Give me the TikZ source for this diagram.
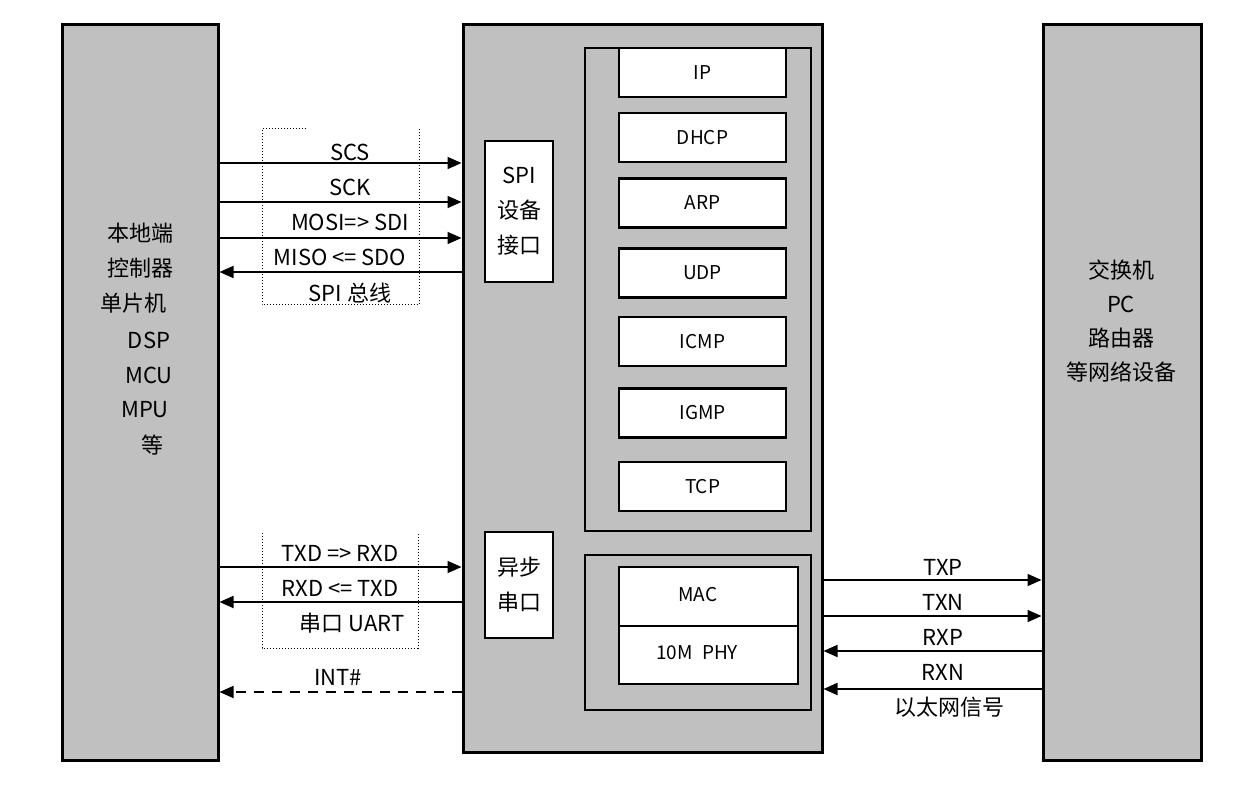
\documentclass[tikz,border=0pt]{standalone}
\usepackage{fontspec}
\setmainfont{Noto Sans CJK SC}
\usetikzlibrary{arrows.meta}
\definecolor{boxgray}{RGB}{192,192,192}

\begin{document}
\begin{tikzpicture}[x=0.5pt, y=-0.5pt,
    every node/.style={font=\fontsize{11pt}{13pt}\selectfont},
    unit/.style={draw, line width=1.5pt, fill=boxgray, inner sep=0pt},
    frame/.style={draw, line width=0.7pt, fill=boxgray, inner sep=0pt},
    layer/.style={draw, line width=1.1pt, fill=white, inner sep=0pt, minimum width=83.5pt, minimum height=24.5pt, font=\fontsize{9.5pt}{11pt}\selectfont},
    port/.style={draw, line width=1.1pt, fill=white, inner sep=0pt, minimum width=34pt, align=center, font=\fontsize{11pt}{17.5pt}\selectfont},
    sig/.style={line width=0.9pt, -{Triangle[length=7pt,width=6pt]}},
    bus/.style={line width=0.5pt, densely dotted},
    lbl/.style={inner sep=0pt}]

\useasboundingbox (0,0) rectangle (1245,801);

% the three units
\node[unit, minimum width=78pt, minimum height=367.5pt] (host) at (140,392.5) {};
\node[unit, minimum width=179.5pt, minimum height=363.5pt] (chip) at (642.5,388.5) {};
\node[unit, minimum width=79pt, minimum height=367.5pt] (net) at (1122,392.5) {};

\foreach \txt/\px/\py in {本地端/140/233, 控制器/140/268, 单片机/133/303, DSP/149/340, MCU/149/375, MPU/145/410, 等/152/445}
    \node[lbl] (host\py) at (\px,\py) {\txt};
\node[lbl, align=center, font=\fontsize{11pt}{17pt}\selectfont] (nettext) at (1121,321) {交换机\\PC\\路由器\\等网络设备};

% protocol stack
\node[frame, minimum width=113pt, minimum height=241.5pt] (stack) at (698,289.5) {};
\node[frame, minimum width=113pt, minimum height=77.5pt] (phyframe) at (698,632.5) {};
\foreach \name/\py in {IP/72.5, DHCP/137.5, ARP/203, UDP/273, ICMP/341.5, IGMP/413, TCP/486.5}
    \node[layer] (\name) at (702.5,\py) {\name};
\node[layer, minimum width=89.5pt, minimum height=58.5pt] (macphy) at (708.5,625.5) {};
\draw[line width=0.6pt] (macphy.west |- 0,626) -- (macphy.east |- 0,626);
\node[lbl, font=\fontsize{9.5pt}{11pt}\selectfont] (mac) at (698,595) {MAC};
\node[lbl, font=\fontsize{9.5pt}{11pt}\selectfont] (phy) at (697,653) {10M\enspace PHY};

\node[port, minimum height=70.5pt] (spi) at (519,211.5) {SPI\\设备\\接口};
\node[port, minimum height=53pt] (uart) at (519,585) {异步\\串口};

% buses
\draw[bus] (306,129) -- (262,129) -- (262,305) -- (419,305) -- (419,129);
\draw[bus] (262,533) -- (262,648) -- (418,648) -- (418,533);

\draw[sig] (host.east |- 0,163) -- (chip.west |- 0,163);
\draw[sig] (host.east |- 0,202) -- (chip.west |- 0,202);
\draw[sig] (host.east |- 0,238) -- (chip.west |- 0,238);
\draw[sig] (chip.west |- 0,272) -- (host.east |- 0,272);
\draw[sig] (host.east |- 0,567) -- (chip.west |- 0,567);
\draw[sig] (chip.west |- 0,602) -- (host.east |- 0,602);
\draw[sig, dash pattern=on 5pt off 4pt] (chip.west |- 0,692) -- (host.east |- 0,692);

\draw[sig] (chip.east |- 0,580) -- (net.west |- 0,580);
\draw[sig] (chip.east |- 0,616) -- (net.west |- 0,616);
\draw[sig] (net.west |- 0,651) -- (chip.east |- 0,651);
\draw[sig] (net.west |- 0,689) -- (chip.east |- 0,689);

\node[lbl] (scs) at (350,152) {SCS};
\node[lbl] (sck) at (350,187) {SCK};
\node[lbl] (mosi) at (350,222) {MOSI=> SDI};
\node[lbl] (miso) at (340,257) {MISO <= SDO};
\node[lbl] (spibus) at (350,293) {SPI 总线};
\node[lbl] (txd) at (340,553) {TXD => RXD};
\node[lbl] (rxd) at (340,588) {RXD <= TXD};
\node[lbl] (uartbus) at (352,623) {串口 UART};
\node[lbl] (int) at (338,677) {INT\#};

\node[lbl] (txp) at (943,567) {TXP};
\node[lbl] (txn) at (943,602) {TXN};
\node[lbl] (rxp) at (943,637) {RXP};
\node[lbl] (rxn) at (943,672) {RXN};
\node[lbl] (ether) at (949,707) {以太网信号};

\end{tikzpicture}
\end{document}
